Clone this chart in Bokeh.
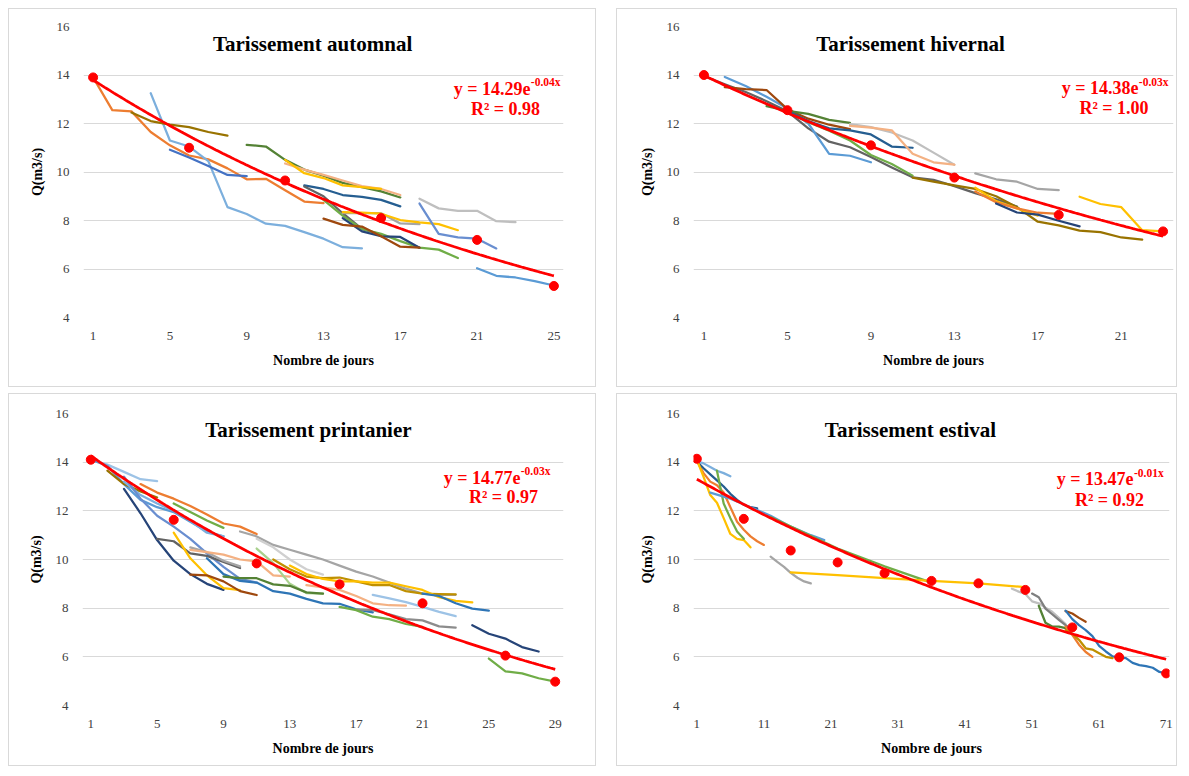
import numpy as np
from bokeh.plotting import figure
from bokeh.models import Label, FixedTicker, Range1d
from bokeh.layouts import row, column
from bokeh.embed import file_html
from bokeh.resources import INLINE

# ---------------- DATA ----------------
# Tarissement automnal
AUT_DOT_X = [1, 6, 11, 16, 21, 25]
AUT_DOT_Y = [13.9, 11.0, 9.65, 8.1, 7.2, 5.3]
aut_orange = [13.9, 12.55, 12.5, 11.65, 11.1, 10.68, 10.52, 10.15, 9.7, 9.72, 9.25, 8.78, 8.72]
aut_lightblue = [13.25, 11.3, 11.05, 10.45, 8.55, 8.27, 7.87, 7.78, 7.52, 7.25, 6.9, 6.85]
aut_olive = [12.45, 12.1, 11.95, 11.85, 11.65, 11.5]
aut_blue = [10.92, 10.6, 10.25, 9.88, 9.83]
aut_darkgreen = [11.12, 11.05, 10.5, 10.1, 9.85, 9.55, 9.38, 9.2, 8.95]
aut_lightorange = [10.35, 10.1, 9.88, 9.65, 9.42, 9.3, 9.05]
aut_yellow = [10.5, 9.95, 9.75, 9.45, 9.38, 9.3]
aut_darkblue = [9.45, 9.3, 9.05, 8.97, 8.85, 8.58]
aut_darkgray = [9.4, 9.0, 8.3, 7.65, 7.42]
aut_green = [8.85, 8.2, 7.65, 7.45, 7.15, 6.88, 6.8, 6.45]
aut_navy = [8.1, 7.55, 7.35, 7.32, 6.88]
aut_brown = [8.08, 7.82, 7.75, 7.35, 6.92, 6.88]
aut_gray = [8.3, 8.3, 8.3, 7.88, 7.85]
aut_yellow2 = [8.35, 8.32, 8.28, 8.02, 7.92, 7.85, 7.6]
aut_lightgray = [8.9, 8.5, 8.4, 8.4, 7.97, 7.93]
aut_purpleblue = [8.7, 7.45, 7.3, 7.25, 6.85]
aut_blue2 = [6.03, 5.72, 5.65, 5.5, 5.32]

# Tarissement hivernal
HIV_DOT_X = [1, 5, 9, 13, 18, 23]
HIV_DOT_Y = [14.0, 12.55, 11.1, 9.77, 8.23, 7.55]
hiv_darkgray = [13.96, 13.62, 13.3, 12.92, 12.5, 11.8, 11.25, 11.02, 10.62, 10.19, 9.78, 9.68, 9.42, 9.13, 8.87, 8.57]
hiv_blue = [13.92, 13.55, 13.1, 12.62, 12.0, 10.75, 10.67, 10.4]
hiv_brown = [13.5, 13.42, 13.38, 12.59, 12.2, 11.95, 11.77]
hiv_darkgreen = [12.72, 12.52, 12.4, 12.15, 12.03]
hiv_green = [12.5, 12.05, 11.7, 11.3, 10.7, 10.33, 9.85]
hiv_darkblue = [12.52, 12.1, 11.8, 11.72, 11.55, 11.05, 11.0]
hiv_lightgray = [11.97, 11.85, 11.63, 11.3, 10.8, 10.3]
hiv_lightorange = [11.9, 11.83, 11.72, 10.75, 10.4, 10.3]
hiv_olive = [9.77, 9.6, 9.45, 9.3, 9.0, 8.55, 7.95, 7.8, 7.58, 7.52, 7.3, 7.21]
hiv_gray = [9.94, 9.7, 9.6, 9.3, 9.25]
hiv_yellow = [9.35, 8.8, 8.5, 8.2]
hiv_orange = [9.2, 8.75, 8.5, 8.32, 8.27]
hiv_navy = [8.7, 8.33, 8.24, 7.99, 7.76]
hiv_yellow2 = [8.98, 8.68, 8.55, 7.6, 7.55]

# Tarissement printanier
PRI_DOT_X = [1, 6, 11, 16, 21, 26, 29]
PRI_DOT_Y = [14.1, 11.63, 9.84, 8.98, 8.2, 6.05, 4.98]
pri_lightblue = [14.1, 13.9, 13.6, 13.3, 13.22]
pri_blue = [14.1, 13.85, 13.1, 12.45, 12.15, 11.95, 11.55, 11.15, 10.95]
pri_olive = [13.65, 13.1, 12.8, 12.55]
pri_orange = [13.1, 12.75, 12.5, 12.2, 11.85, 11.48, 11.35, 11.05]
pri_lightblue2 = [13.2, 12.65, 12.3, 12.0, 11.6, 11.1, 10.95]
pri_green = [12.3, 11.95, 11.6, 11.3]
pri_purpleblue = [13.4, 12.5, 11.8, 11.35, 10.85, 10.25, 9.7, 9.2, 9.05]
pri_navy = [12.9, 11.9, 10.8, 9.95, 9.4, 9.0, 8.75]
pri_darkgray = [10.85, 10.75, 10.25, 10.15, 9.9, 9.65]
pri_yellow = [11.1, 10.05, 9.35, 8.82, 8.74]
pri_brown = [9.38, 9.35, 9.1, 8.7, 8.54]
pri_gray = [10.5, 10.3, 9.95, 9.72]
pri_lightorange = [10.4, 10.3, 10.2, 10.0, 9.92, 9.35, 9.3]
pri_darkblue = [10.05, 9.4, 9.12, 9.05, 8.7, 8.6, 8.38, 8.2, 8.18, 7.95, 7.83]
pri_lightgreen = [10.45, 9.85, 9.0, 8.62, 8.6]
pri_darkgreen = [9.3, 9.23, 9.23, 8.98, 8.92, 8.65, 8.6]
pri_graylong = [11.15, 10.95, 10.6, 10.4, 10.2, 10.0, 9.75, 9.5, 9.3, 9.05, 8.8, 8.6, 8.55, 8.55]
pri_lightgray = [10.85, 10.5, 10.0, 9.6, 9.38]
pri_gold = [10.0, 9.6, 9.3, 9.23, 9.26, 9.1, 8.95, 8.95, 8.7, 8.6, 8.58, 8.57]
pri_yellow2 = [9.75, 9.4, 9.2, 9.1, 9.1, 9.05, 9.05, 8.9, 8.75, 8.45, 8.3, 8.24]
pri_lightorange2 = [8.95, 8.85, 8.75, 8.5, 8.2, 8.12, 8.1]
pri_lightblue3 = [8.55, 8.4, 8.25, 8.05, 7.85, 7.67]
pri_gray2 = [7.95, 7.92, 7.75, 7.55, 7.5, 7.25, 7.2]
pri_green2 = [8.05, 7.92, 7.65, 7.55, 7.35, 7.23]
pri_blue2 = [8.6, 8.5, 8.2, 7.98, 7.9]
pri_navy2 = [7.3, 6.95, 6.75, 6.4, 6.22]
pri_green3 = [5.93, 5.4, 5.32, 5.12, 4.98]

# Tarissement estival
EST_DOT_X = [1, 8, 15, 22, 29, 36, 43, 50, 57, 64, 71]
EST_DOT_Y = [14.14, 11.67, 10.37, 9.88, 9.44, 9.12, 9.02, 8.75, 7.21, 5.98, 5.32]
est_lightblue = [14.05, 13.95, 13.8, 13.65, 13.55, 13.42]
est_orange = [14.05, 13.55, 13.2, 13.05, 12.75, 12.15, 11.55, 11.22, 10.95, 10.75, 10.6]
est_darkblue = [14.03, 13.75, 13.5, 13.25, 13.0, 12.7, 12.45, 12.25, 12.15, 12.1]
est_yellow = [14.1, 13.4, 12.65, 12.33, 11.7, 11.05, 10.85, 10.8, 10.5]
est_green = [13.65, 12.3, 11.7, 11.15, 10.85]
est_blue_along_x = [3, 6, 9, 12, 15, 18, 20]
est_blue_along_y = [12.75, 12.5, 12.15, 11.8, 11.35, 11.0, 10.8]
est_green_along_x = [12, 22, 29, 36]
est_green_along_y = [11.75, 10.45, 9.72, 9.05]
est_gray = [10.12, 9.9, 9.7, 9.45, 9.25, 9.1, 9.02]
est_yellow_long_x = [15, 22, 29, 36, 43, 50]
est_yellow_long_y = [9.47, 9.36, 9.23, 9.12, 9.02, 8.86]
est_lightgray = [8.8, 8.68, 8.58, 8.28, 8.2, 8.02, 7.85, 7.6, 7.35]
est_darkgray = [8.6, 8.45, 7.98, 7.75, 7.52, 7.3, 7.1]
est_darkgreen = [8.1, 7.4, 7.25, 7.24, 7.18, 7.1]
est_brown = [7.88, 7.78, 7.6, 7.44]
est_blue = [7.9, 7.55, 7.3, 7.1, 6.85, 6.45, 6.22, 6.02, 5.98, 5.95, 5.75, 5.66, 5.62, 5.55, 5.38, 5.32]
est_orange2 = [7.24, 6.9, 6.5, 6.2, 6.0]
est_gold = [7.1, 6.95, 6.7, 6.35, 6.3, 6.15, 6.0, 5.95]

Y_TICKS = [4, 6, 8, 10, 12, 14, 16]
AUT_X_TICKS = [1, 5, 9, 13, 17, 21, 25]
HIV_X_TICKS = [1, 5, 9, 13, 17, 21]
PRI_X_TICKS = [1, 5, 9, 13, 17, 21, 25, 29]
EST_X_TICKS = [1, 11, 21, 31, 41, 51, 61, 71]

# colours
ORANGE = "#ED7D31"; LBLUE = "#7CAFDD"; OLIVE = "#997300"; BLUE = "#4472C4"
DGREEN = "#548235"; LORANGE = "#F4B183"; YELLOW = "#FFC000"; DBLUE = "#255E91"
DGRAY = "#636363"; GREEN = "#70AD47"; NAVY = "#264478"; BROWN = "#9E480E"
GRAY = "#A5A5A5"; LGRAY = "#BFBFBF"; PBLUE = "#698ED0"; MBLUE = "#5B9BD5"
GOLD = "#BF9000"; LGREEN = "#A9D18E"; VLBLUE = "#9DC3E6"; MBLUE2 = "#2E75B6"

AUT_CURVES = [
    (1, aut_orange, ORANGE), (4, aut_lightblue, LBLUE), (3, aut_olive, OLIVE),
    (5, aut_blue, BLUE), (9, aut_darkgreen, DGREEN), (11, aut_lightorange, LORANGE),
    (11, aut_yellow, YELLOW), (12, aut_darkblue, DBLUE), (12, aut_darkgray, DGRAY),
    (13, aut_green, GREEN), (14, aut_navy, NAVY), (13, aut_brown, BROWN),
    (14, aut_gray, GRAY), (14, aut_yellow2, YELLOW), (18, aut_lightgray, LGRAY),
    (18, aut_purpleblue, PBLUE), (21, aut_blue2, MBLUE),
]
HIV_CURVES = [
    (1, hiv_darkgray, DGRAY), (2, hiv_blue, MBLUE), (2, hiv_brown, BROWN),
    (4, hiv_darkgreen, DGREEN), (5, hiv_green, GREEN), (5, hiv_darkblue, DBLUE),
    (8, hiv_lightgray, LGRAY), (8, hiv_lightorange, LORANGE), (11, hiv_olive, OLIVE),
    (14, hiv_gray, GRAY), (14, hiv_yellow, YELLOW), (14, hiv_orange, ORANGE),
    (15, hiv_navy, NAVY), (19, hiv_yellow2, YELLOW),
]
PRI_CURVES = [
    (1, pri_lightblue, VLBLUE), (1, pri_blue, MBLUE), (2, pri_olive, OLIVE),
    (4, pri_orange, ORANGE), (3, pri_lightblue2, LBLUE), (6, pri_green, GREEN),
    (3, pri_purpleblue, PBLUE), (3, pri_navy, NAVY), (5, pri_darkgray, DGRAY),
    (6, pri_yellow, YELLOW), (7, pri_brown, BROWN), (7, pri_gray, GRAY),
    (7, pri_lightorange, LORANGE), (8, pri_darkblue, MBLUE2), (11, pri_lightgreen, LGREEN),
    (9, pri_darkgreen, DGREEN), (10, pri_graylong, GRAY), (11, pri_lightgray, "#D0D0D0"),
    (12, pri_gold, GOLD), (13, pri_yellow2, YELLOW), (14, pri_lightorange2, LORANGE),
    (18, pri_lightblue3, VLBLUE), (17, pri_gray2, "#8C8C8C"), (16, pri_green2, GREEN),
    (21, pri_blue2, MBLUE2), (24, pri_navy2, NAVY), (25, pri_green3, GREEN),
]
EST_CURVES = [
    (1, est_lightblue, LBLUE), (1, est_orange, ORANGE), (1, est_darkblue, DBLUE),
    (1, est_yellow, YELLOW), (4, est_green, GREEN),
    (est_blue_along_x, est_blue_along_y, MBLUE), (est_green_along_x, est_green_along_y, GREEN),
    (12, est_gray, GRAY), (est_yellow_long_x, est_yellow_long_y, YELLOW),
    (48, est_lightgray, LGRAY), (51, est_darkgray, "#7F7F7F"), (52, est_darkgreen, DGREEN),
    (56, est_brown, BROWN), (56, est_blue, MBLUE2), (56, est_orange2, ORANGE),
    (56, est_gold, GOLD),
]

SERIF = "Liberation Serif"
RED = "#FF0000"
GRID = "#D9D9D9"


def panel(width, height, bl, br, bt, bb, xr, xticks, curves, dx, dy, fit_end,
          title, tpos, eq, sup, eqpos, suppos, r2, r2pos):
    p = figure(width=width, height=height, x_range=Range1d(*xr), y_range=Range1d(4, 16),
               output_backend="svg", toolbar_location=None,
               min_border_left=bl, min_border_right=br, min_border_top=bt, min_border_bottom=bb)
    p.styles = {"border": "1px solid #D9D9D9"}
    p.outline_line_color = None
    p.background_fill_color = "white"
    p.border_fill_color = "white"
    p.xgrid.grid_line_color = None
    p.ygrid.grid_line_color = GRID
    p.ygrid.grid_line_width = 1
    p.yaxis.ticker = FixedTicker(ticks=Y_TICKS)
    p.xaxis.ticker = FixedTicker(ticks=xticks)
    p.xaxis.axis_label = "Nombre de jours"
    p.yaxis.axis_label = "Q(m3/s)"
    for ax in (p.xaxis[0], p.yaxis[0]):
        ax.axis_line_color = None
        ax.major_tick_line_color = None
        ax.minor_tick_line_color = None
        ax.major_tick_out = 0
        ax.major_tick_in = 0
        ax.minor_tick_out = 0
        ax.minor_tick_in = 0
        ax.major_label_text_font = SERIF
        ax.major_label_text_font_size = "13px"
        ax.major_label_text_color = "#404040"
        ax.axis_label_text_font = SERIF
        ax.axis_label_text_font_style = "bold"
        ax.axis_label_text_font_size = "14px"
        ax.axis_label_text_color = "black"
    p.xaxis.major_label_standoff = 14
    p.xaxis.axis_label_standoff = 10
    p.yaxis.major_label_standoff = 14
    p.yaxis.axis_label_standoff = 9

    for start, ys, color in curves:
        xs = list(range(start, start + len(ys))) if isinstance(start, int) else start
        p.line(xs, ys, line_color=color, line_width=2.25, line_join="round", line_cap="round")

    k, b = np.polyfit(dx, np.log(dy), 1)
    fx = np.linspace(1, fit_end, 200)
    p.line(fx, np.exp(b + k * fx), line_color=RED, line_width=2.75)
    p.scatter(dx, dy, size=9, color=RED)

    p.add_layout(Label(x=tpos[0], y=tpos[1], text=title, text_font=SERIF, text_font_style="bold",
                       text_font_size="21px", text_align="center", text_baseline="middle",
                       text_color="black"))
    p.add_layout(Label(x=eqpos[0], y=eqpos[1], text=eq, text_font=SERIF, text_font_style="bold",
                       text_font_size="18px", text_align="right", text_baseline="alphabetic",
                       text_color=RED))
    p.add_layout(Label(x=suppos[0], y=suppos[1], text=sup, text_font=SERIF, text_font_style="bold",
                       text_font_size="11.5px", text_align="left", text_baseline="alphabetic",
                       text_color=RED))
    p.add_layout(Label(x=r2pos[0], y=r2pos[1], text=r2, text_font=SERIF, text_font_style="bold",
                       text_font_size="18px", text_align="center", text_baseline="alphabetic",
                       text_color=RED))
    return p


p1 = panel(588, 379, 74, 34, 17, 71, (0.5, 25.5), AUT_X_TICKS, AUT_CURVES, AUT_DOT_X, AUT_DOT_Y, 25,
           "Tarissement automnal", (12.43, 15.26), "y = 14.29e", "-0.04x", (23.78, 13.42), (23.8, 13.71),
           "R² = 0.98", (22.48, 12.6))
p2 = panel(561, 379, 76, 5, 17, 71, (0.5, 23.5), HIV_X_TICKS, HIV_CURVES, HIV_DOT_X, HIV_DOT_Y, 23,
           "Tarissement hivernal", (10.9, 15.26), "y = 14.38e", "-0.03x", (21.82, 13.45), (21.84, 13.7),
           "R² = 1.00", (20.65, 12.64))
p3 = panel(588, 373, 73, 34, 19, 62, (0.5, 29.5), PRI_X_TICKS, PRI_CURVES, PRI_DOT_X, PRI_DOT_Y, 29,
           "Tarissement printanier", (14.12, 15.32), "y = 14.77e", "-0.03x", (26.9, 13.36), (26.92, 13.63),
           "R² = 0.97", (25.88, 12.56))
p4 = panel(561, 373, 76, 9, 19, 62, (0.5, 71.5), EST_X_TICKS, EST_CURVES, EST_DOT_X, EST_DOT_Y, 71,
           "Tarissement estival", (32.87, 15.32), "y = 13.47e", "-0.01x", (66.13, 13.29), (66.2, 13.56),
           "R² = 0.92", (62.55, 12.46))

layout = column(row(p1, p2, spacing=20), row(p3, p4, spacing=20), spacing=6, margin=(8, 0, 0, 8))
open("out.html", "w").write(file_html(layout, INLINE))
